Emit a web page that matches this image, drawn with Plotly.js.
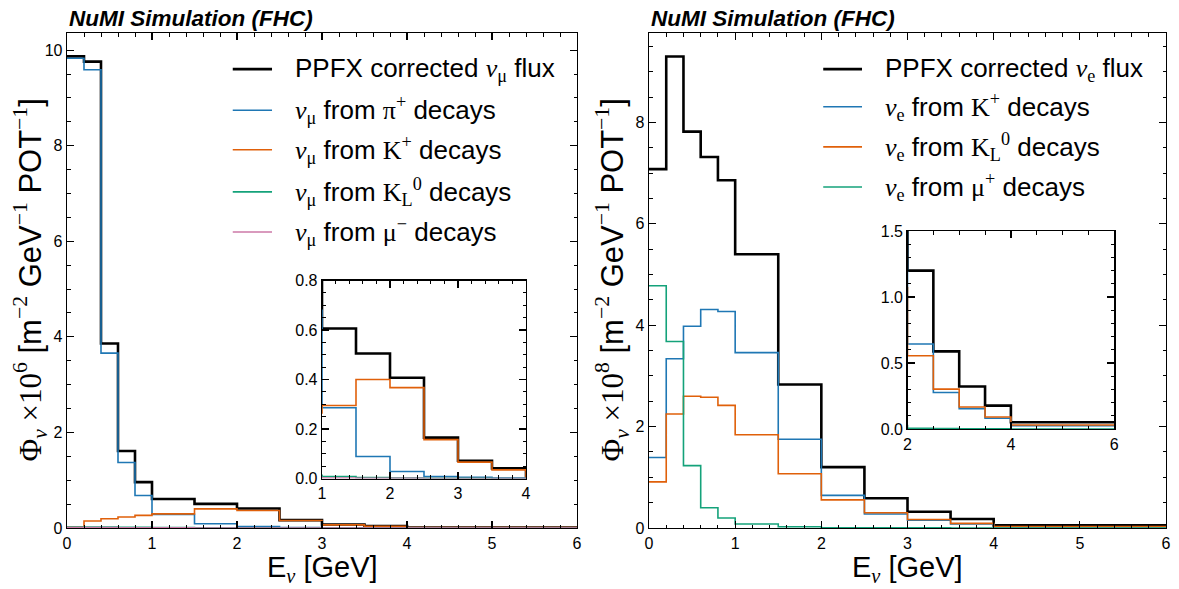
<!DOCTYPE html>
<html>
<head>
<meta charset="utf-8">
<script src="https://cdn.plot.ly/plotly-3.0.1.min.js"></script>
<style>
  html, body { margin: 0; padding: 0; background: #fff; }
  #chart { width: 1179px; height: 589px; }
</style>
</head>
<body>
<div id="chart"></div>
<script>
// Energy bin edges [GeV], shared by both flux panels
const binEdges = [0, 0.2, 0.4, 0.6, 0.8, 1.0, 1.5, 2.0, 2.5, 3.0, 3.5, 4.0, 6.0];

// nu_mu flux components, units of 1e6 m^-2 GeV^-1 POT^-1
const numuTotal = [9.87, 9.76, 3.86, 1.61, 0.96, 0.606, 0.505, 0.407, 0.165, 0.072, 0.041, 0.008];
const numuFromPiPlus = [9.83, 9.59, 3.66, 1.37, 0.68, 0.286, 0.089, 0.028, 0.008, 0.005, 0.002, 0.0005];
const numuFromKPlus = [0.02, 0.146, 0.195, 0.23, 0.265, 0.295, 0.40, 0.367, 0.157, 0.066, 0.035, 0.007];
const numuFromK0L = [0.02, 0.02, 0.02, 0.015, 0.013, 0.008, 0.004, 0.002, 0.001, 0.0005, 0.0003, 0.0001];
const numuFromMuMinus = [0.01, 0.01, 0.008, 0.006, 0.004, 0.002, 0.001, 0.0005, 0.0003, 0.0002, 0.0001, 0.0];

// nu_e flux components, units of 1e8 m^-2 GeV^-1 POT^-1
const nueTotal = [7.08, 9.30, 7.82, 7.32, 6.86, 5.40, 2.83, 1.20, 0.588, 0.322, 0.177, 0.051];
const nueFromKPlus = [1.39, 3.34, 3.98, 4.31, 4.27, 3.46, 1.75, 0.644, 0.276, 0.154, 0.081, 0.025];
const nueFromK0L = [0.91, 2.25, 2.60, 2.58, 2.42, 1.84, 1.07, 0.555, 0.302, 0.167, 0.091, 0.030];
const nueFromMuPlus = [4.78, 3.68, 1.23, 0.40, 0.196, 0.08, 0.026, 0.006, 0.003, 0.002, 0.001, 0.0005];

// Tick labels
const energyTicks = [0, 1, 2, 3, 4, 5, 6];
const numuFluxTicks = [0, 2, 4, 6, 8, 10];
const nueFluxTicks = [0, 2, 4, 6, 8];
const numuInsetEnergyTicks = [1, 2, 3, 4];
const numuInsetFluxTicks = [0, 0.2, 0.4, 0.6, 0.8];
const nueInsetEnergyTicks = [2, 4, 6];
const nueInsetFluxTicks = [0, 0.5, 1.0, 1.5];

// Text pieces
const M = s => '<span style="font-family:\'Liberation Serif\', serif">' + s + '</span>';
const panelTitle = '<b><i>NuMI Simulation (FHC)</i></b>';
const numuLabels = [
  'PPFX corrected ' + M('<i>ν</i><sub>μ</sub>') + ' flux',
  M('<i>ν</i><sub>μ</sub>') + ' from ' + M('π<sup>+</sup>') + ' decays',
  M('<i>ν</i><sub>μ</sub>') + ' from ' + M('K<sup>+</sup>') + ' decays',
  M('<i>ν</i><sub>μ</sub>') + ' from ' + M('K<sub>L</sub><sup>0</sup>') + ' decays',
  M('<i>ν</i><sub>μ</sub>') + ' from ' + M('μ<sup>−</sup>') + ' decays'
];
const nueLabels = [
  'PPFX corrected ' + M('<i>ν</i><sub>e</sub>') + ' flux',
  M('<i>ν</i><sub>e</sub>') + ' from ' + M('K<sup>+</sup>') + ' decays',
  M('<i>ν</i><sub>e</sub>') + ' from ' + M('K<sub>L</sub><sup>0</sup>') + ' decays',
  M('<i>ν</i><sub>e</sub>') + ' from ' + M('μ<sup>+</sup>') + ' decays'
];
const xTitle = 'E' + M('<sub><i>ν</i></sub>') + ' [GeV]';
const yTitleNumu = M('Φ<sub><i>ν</i></sub> ×10<sup>6</sup>') + ' [m' + M('<sup>−2</sup>') + ' GeV' + M('<sup>−1</sup>') + ' POT' + M('<sup>−1</sup>') + ']';
const yTitleNue = M('Φ<sub><i>ν</i></sub> ×10<sup>8</sup>') + ' [m' + M('<sup>−2</sup>') + ' GeV' + M('<sup>−1</sup>') + ' POT' + M('<sup>−1</sup>') + ']';

// Colours
const BLACK = '#000000';
const BLUE = '#1f77b4';
const ORANGE = '#e0600a';
const GREEN = '#14a27a';
const PINK = '#cc79a7';

const W = 1179, H = 589;
const px = v => v / W;
const py = v => (H - v) / H;

// Step outline of a binned histogram
function stepTrace(vals, color, width, xa, ya) {
  return {
    type: 'scatter', mode: 'lines',
    x: binEdges,
    y: vals.concat([vals[vals.length - 1]]),
    line: { shape: 'hv', color: color, width: width },
    xaxis: xa, yaxis: ya,
    hoverinfo: 'skip', showlegend: false
  };
}

const numuSeries = [
  [numuTotal, BLACK, 2.6],
  [numuFromPiPlus, BLUE, 1.6],
  [numuFromKPlus, ORANGE, 1.6],
  [numuFromK0L, GREEN, 1.6],
  [numuFromMuMinus, PINK, 1.6]
];
const nueSeries = [
  [nueTotal, BLACK, 2.6],
  [nueFromKPlus, BLUE, 1.6],
  [nueFromK0L, ORANGE, 1.6],
  [nueFromMuPlus, GREEN, 1.6]
];

const traces = [];
numuSeries.forEach(s => traces.push(stepTrace(s[0], s[1], s[2], 'x', 'y')));
nueSeries.forEach(s => traces.push(stepTrace(s[0], s[1], s[2], 'x2', 'y2')));
numuSeries.forEach(s => traces.push(stepTrace(s[0], s[1], s[2], 'x3', 'y3')));
nueSeries.forEach(s => traces.push(stepTrace(s[0], s[1], s[2], 'x4', 'y4')));

const tickFont = { family: 'Liberation Sans, Arial, sans-serif', size: 16, color: '#000' };
function axis(domain, range, tickvals, minorStep, fmt, anchor) {
  return {
    domain: domain, range: range, anchor: anchor,
    tickvals: tickvals, tickformat: fmt,
    showline: true, linecolor: '#000', linewidth: 1.3, mirror: 'allticks',
    ticks: 'inside', ticklen: 7, tickwidth: 1.2, tickcolor: '#000',
    minor: { ticks: 'inside', ticklen: 3.5, tickwidth: 1, tickcolor: '#000', dtick: minorStep, showgrid: false },
    showgrid: false, zeroline: false, tickfont: tickFont, fixedrange: true
  };
}

// Panel frames in pixels: [left, right, top, bottom]
const mainL = [67, 577, 33, 528];
const mainR = [649, 1166, 33, 528];
function inset(frame, fx, fy, fw, fh) {
  const w = frame[1] - frame[0], h = frame[3] - frame[2];
  const l = frame[0] + fx * w, b = frame[3] - fy * h;
  return [l, l + fw * w, b - fh * h, b];
}
const insL = inset(mainL, 0.5, 0.1, 0.4, 0.4);
const insR = inset(mainR, 0.5, 0.2, 0.4, 0.4);
const xd = f => [px(f[0]), px(f[1])];
const yd = f => [py(f[3]), py(f[2])];

const layout = {
  width: W, height: H,
  margin: { l: 0, r: 0, t: 0, b: 0 },
  paper_bgcolor: '#fff', plot_bgcolor: 'rgba(0,0,0,0)',
  showlegend: false,
  font: { family: 'Liberation Sans, Arial, sans-serif', color: '#000' },
  xaxis: axis(xd(mainL), [0, 6], energyTicks, 0.2, '', 'y'),
  yaxis: axis(yd(mainL), [0, 10.36], numuFluxTicks, 0.5, '', 'x'),
  xaxis2: axis(xd(mainR), [0, 6], energyTicks, 0.2, '', 'y2'),
  yaxis2: axis(yd(mainR), [0, 9.765], nueFluxTicks, 0.5, '', 'x2'),
  xaxis3: axis(xd(insL), [1, 4], numuInsetEnergyTicks, 0.2, '', 'y3'),
  yaxis3: axis(yd(insL), [0, 0.8], numuInsetFluxTicks, 0.05, '.1f', 'x3'),
  xaxis4: axis(xd(insR), [2, 6], nueInsetEnergyTicks, 0.5, '', 'y4'),
  yaxis4: axis(yd(insR), [0, 1.5], nueInsetFluxTicks, 0.1, '.1f', 'x4'),
  shapes: [],
  annotations: []
};

const legendFont = { family: 'Liberation Sans, Arial, sans-serif', size: 26, color: '#000' };
function addLegend(series, labels, xr, yr, lineX0, lineX1, textX, rows) {
  series.forEach((s, i) => {
    layout.shapes.push({
      type: 'line', xref: xr + ' domain', yref: yr + ' domain',
      x0: lineX0, x1: lineX1, y0: rows[i], y1: rows[i],
      line: { color: s[1], width: s[2] }
    });
    layout.annotations.push({
      xref: xr + ' domain', yref: yr + ' domain', x: textX, y: rows[i],
      xanchor: 'left', yanchor: 'middle', showarrow: false,
      text: labels[i], font: legendFont
    });
  });
}
addLegend(numuSeries, numuLabels, 'x', 'y', 0.325, 0.402, 0.443, [0.927, 0.844, 0.764, 0.679, 0.598]);
addLegend(nueSeries, nueLabels, 'x2', 'y2', 0.337, 0.412, 0.453, [0.927, 0.851, 0.770, 0.689]);

const titleFont = { family: 'Liberation Sans, Arial, sans-serif', size: 22.5, color: '#000' };
['x', 'x2'].forEach((xr, i) => {
  layout.annotations.push({
    xref: xr + ' domain', yref: (i ? 'y2' : 'y') + ' domain', x: 0, y: 1,
    xanchor: 'left', yanchor: 'bottom', yshift: 0, showarrow: false,
    text: panelTitle, font: titleFont
  });
});

const axisTitleFont = { family: 'Liberation Sans, Arial, sans-serif', size: 31, color: '#000' };
[[mainL, yTitleNumu, 30], [mainR, yTitleNue, 612]].forEach(([f, t, cx]) => {
  layout.annotations.push({
    xref: 'paper', yref: 'paper', x: px(cx), y: py((f[2] + f[3]) / 2),
    xanchor: 'center', yanchor: 'middle', textangle: -90, showarrow: false,
    text: t, font: axisTitleFont
  });
  layout.annotations.push({
    xref: 'paper', yref: 'paper', x: px((f[0] + f[1]) / 2), y: py(569),
    xanchor: 'center', yanchor: 'middle', borderpad: 0, showarrow: false,
    text: xTitle, font: { family: axisTitleFont.family, size: 29, color: '#000' }
  });
});

Plotly.newPlot('chart', traces, layout, { staticPlot: true, displayModeBar: false });
</script>
</body>
</html>
